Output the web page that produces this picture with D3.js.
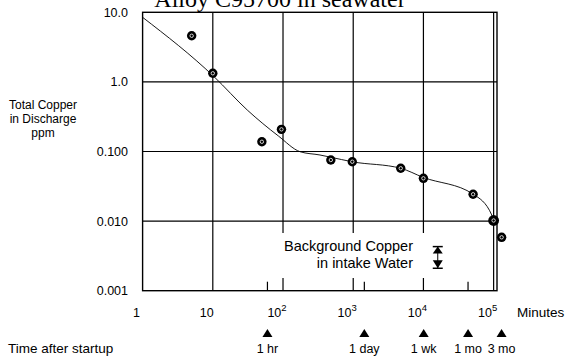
<!DOCTYPE html>
<html>
	<head>
		<title>Alloy C95700 in seawater</title>
		<script src='https://cdn.jsdelivr.net/npm/d3@7/dist/d3.min.js'></script>
		<style>
			body { margin: 0; background: #fff; }
			text { font-family: Arial, 'Liberation Sans', sans-serif; fill: #000; }
		</style>
	</head>
	<body>
		<script>
			// samples: minutes after startup vs total copper in discharge (ppm)
			var sampleMinutes = [5, 10, 50, 95, 480, 970, 4750, 10000, 51000, 100000, 130000];
			var sampleCopper = [4.6, 1.33, 0.138, 0.208, 0.0755, 0.0713, 0.0574, 0.0412, 0.0243, 0.0102, 0.00585];

			// hand drawn trend line
			var fitMinutes = [1, 10.4, 31, 86, 175, 336, 483, 961, 4750, 9860, 51400, 94000, 101000];
			var fitCopper = [8.47, 1.19, 0.394, 0.167, 0.0993, 0.0891, 0.0826, 0.0713, 0.0574, 0.0426, 0.0243, 0.01225, 0.0100];

			var xTicks = [1, 10, 100, 1000, 10000, 100000];
			var xTickBase = ['1', '10', '10', '10', '10', '10'];
			var xTickExp = ['', '', '2', '3', '4', '5'];
			var yTicks = [10, 1, 0.1, 0.01, 0.001];
			var yTickLabels = ['10.0', '1.0', '0.100', '0.010', '0.001'];

			var markMinutes = [60, 1440, 10080, 43200, 129600];
			var markLabels = ['1 hr', '1 day', '1 wk', '1 mo', '3 mo'];
			var minorTicks = [60, 1440, 43200];

			// background copper range in intake water
			var bgMinutes = 16000;
			var bgCopper = [0.0043, 0.0021];

			var w = 571,
				h = 356;

			var svg = d3.select('body')
						.append('svg')
						.attr('width', w)
						.attr('height', h);

			var x = d3.scaleLog().domain([1, Math.pow(10, 5.048)]).range([142.6, 497]);
			var y = d3.scaleLog().domain([0.001, 10]).range([290.7, 12.3]);

			var x0 = x.range()[0], x1 = x.range()[1],
				yTop = y.range()[1], yBot = y.range()[0];

			// title, partly cut by the top edge like the original
			svg.append('text')
				.attr('x', 280)
				.attr('y', 7)
				.attr('text-anchor', 'middle')
				.style('font-family', "'Liberation Serif', 'Times New Roman', serif")
				.style('font-size', '24px')
				.text('Alloy C95700 in seawater');

			// grid
			svg.selectAll('line.vgrid')
				.data(xTicks.slice(1))
				.enter()
				.append('line')
				.attr('x1', function(d) { return x(d); })
				.attr('x2', function(d) { return x(d); })
				.attr('y1', yTop)
				.attr('y2', yBot)
				.attr('stroke', '#000')
				.attr('stroke-width', 1.2);

			svg.selectAll('line.hgrid')
				.data(yTicks.slice(1, -1))
				.enter()
				.append('line')
				.attr('x1', x0)
				.attr('x2', x1)
				.attr('y1', function(d) { return y(d); })
				.attr('y2', function(d) { return y(d); })
				.attr('stroke', '#000')
				.attr('stroke-width', 1.2);

			svg.selectAll('line.minor')
				.data(minorTicks)
				.enter()
				.append('line')
				.attr('x1', function(d) { return x(d); })
				.attr('x2', function(d) { return x(d); })
				.attr('y1', yBot - 9)
				.attr('y2', yBot)
				.attr('stroke', '#000')
				.attr('stroke-width', 1.2);

			// white patch behind the background copper note
			svg.append('rect')
				.attr('x', 272)
				.attr('y', 233)
				.attr('width', 178)
				.attr('height', 45)
				.attr('fill', '#fff');

			svg.append('rect')
				.attr('x', x0)
				.attr('y', yTop)
				.attr('width', x1 - x0)
				.attr('height', yBot - yTop)
				.attr('fill', 'none')
				.attr('stroke', '#000')
				.attr('stroke-width', 1.4);

			// trend line
			var line = d3.line()
						.x(function(d, i) { return x(fitMinutes[i]); })
						.y(function(d, i) { return y(fitCopper[i]); })
						.curve(d3.curveMonotoneX);

			svg.append('path')
				.datum(fitMinutes)
				.attr('d', line)
				.attr('fill', 'none')
				.attr('stroke', '#000')
				.attr('stroke-width', 0.9);

			// sample markers
			var pts = svg.selectAll('g.pt')
						.data(sampleMinutes)
						.enter()
						.append('g')
						.attr('transform', function(d, i) {
							return 'translate(' + x(d) + ',' + y(sampleCopper[i]) + ')';
						});
			pts.append('circle')
				.attr('r', function(d) { return d === 100000 ? 5.4 : 4.7; })
				.attr('fill', '#000');
			pts.append('circle')
				.attr('r', 1.7)
				.attr('fill', 'none')
				.attr('stroke', '#fff')
				.attr('stroke-width', 0.8);

			// background copper range symbol
			var bx = x(bgMinutes), bt = y(bgCopper[0]), bb = y(bgCopper[1]);
			var bg = svg.append('g');
			bg.append('line')
				.attr('x1', bx).attr('x2', bx)
				.attr('y1', bt).attr('y2', bb)
				.attr('stroke', '#000');
			bg.append('line')
				.attr('x1', bx - 5).attr('x2', bx + 5)
				.attr('y1', bt).attr('y2', bt)
				.attr('stroke', '#000').attr('stroke-width', 1.5);
			bg.append('line')
				.attr('x1', bx - 5).attr('x2', bx + 5)
				.attr('y1', bb).attr('y2', bb)
				.attr('stroke', '#000').attr('stroke-width', 1.5);
			bg.append('path')
				.attr('d', 'M' + bx + ',' + bt + 'L' + (bx + 5) + ',' + (bt + 7) + 'L' + (bx - 5) + ',' + (bt + 7) + 'Z')
				.attr('fill', '#000');
			bg.append('path')
				.attr('d', 'M' + bx + ',' + bb + 'L' + (bx + 5) + ',' + (bb - 8) + 'L' + (bx - 5) + ',' + (bb - 8) + 'Z')
				.attr('fill', '#000');

			svg.append('text')
				.attr('x', 413)
				.attr('y', 251)
				.attr('text-anchor', 'end')
				.style('font-size', '14.5px')
				.text('Background Copper');
			svg.append('text')
				.attr('x', 413)
				.attr('y', 268)
				.attr('text-anchor', 'end')
				.style('font-size', '14.5px')
				.text('in intake Water');

			// axis labels
			var xl = svg.selectAll('text.xtick')
						.data(xTicks)
						.enter()
						.append('text')
						.attr('x', function(d) { return x(d) - 6; })
						.attr('y', 317)
						.attr('text-anchor', 'middle')
						.style('font-size', '12.5px')
						.text(function(d, i) { return xTickBase[i]; });
			xl.append('tspan')
				.attr('dy', -6)
				.style('font-size', '9.5px')
				.text(function(d, i) { return xTickExp[i]; });

			svg.append('text')
				.attr('x', 517)
				.attr('y', 317)
				.style('font-size', '13.5px')
				.text('Minutes');

			svg.selectAll('text.ytick')
				.data(yTicks)
				.enter()
				.append('text')
				.attr('x', 128)
				.attr('y', function(d) { return y(d) + 4.5; })
				.attr('text-anchor', 'end')
				.style('font-size', '12.5px')
				.text(function(d, i) { return yTickLabels[i]; });

			svg.append('text')
				.attr('x', 43)
				.attr('y', 109)
				.attr('text-anchor', 'middle')
				.style('font-size', '12px')
				.selectAll('tspan')
				.data(['Total Copper', 'in Discharge', 'ppm'])
				.enter()
				.append('tspan')
				.attr('x', 43)
				.attr('dy', function(d, i) { return i ? 14 : 0; })
				.text(function(d) { return d; });

			// time markers under the axis
			svg.selectAll('path.mark')
				.data(markMinutes)
				.enter()
				.append('path')
				.attr('d', function(d) {
					var cx = x(d);
					return 'M' + cx + ',329L' + (cx + 5) + ',337L' + (cx - 5) + ',337Z';
				})
				.attr('fill', '#000');

			svg.selectAll('text.mark')
				.data(markMinutes)
				.enter()
				.append('text')
				.attr('x', function(d) { return x(d); })
				.attr('y', 353)
				.attr('text-anchor', 'middle')
				.style('font-size', '12.5px')
				.text(function(d, i) { return markLabels[i]; });

			svg.append('text')
				.attr('x', 8)
				.attr('y', 353)
				.style('font-size', '13.5px')
				.text('Time after startup');
		</script>
	</body>
</html>
